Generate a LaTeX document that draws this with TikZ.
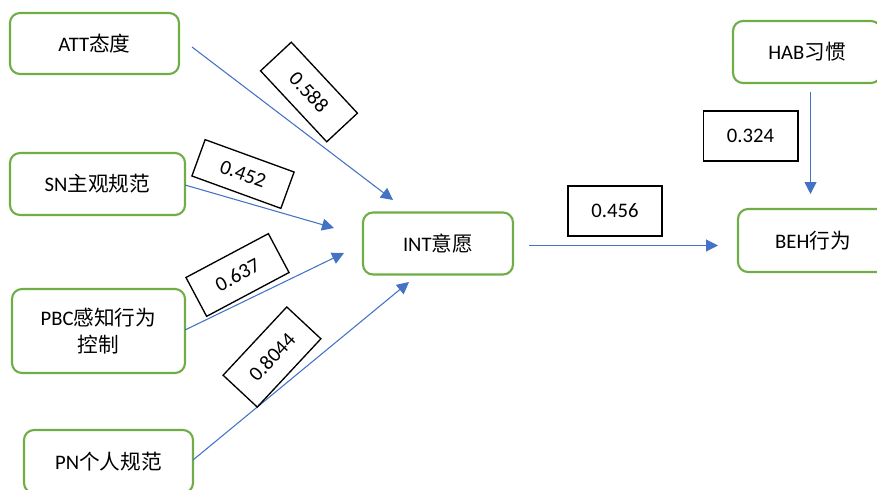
\documentclass[tikz,border=0pt]{standalone}
\usepackage{fontspec}
\setmainfont{Carlito}
\newfontfamily\cjk{Noto Sans CJK SC}
\usetikzlibrary{arrows.meta}
\definecolor{boxgreen}{HTML}{70AD47}
\definecolor{linkblue}{HTML}{4472C4}
\begin{document}
\begin{tikzpicture}[x=0.75pt,y=-0.75pt,
  factor/.style={draw=boxgreen, line width=1.6pt, rounded corners=7.5pt,
    align=center, inner sep=0pt, font=\fontsize{15.5}{20}\selectfont},
  coef/.style={draw=black, line width=1pt, inner sep=0pt,
    font=\fontsize{15.5}{19}\selectfont},
  link/.style={draw=linkblue, line width=0.8pt,
    -{Triangle[length=9pt,width=9pt]}}]
\useasboundingbox (0,0) rectangle (877,489);
\clip (0,0) rectangle (877,489);

% model constructs
\node[factor, minimum width=126.75pt, minimum height=45.75pt] (att) at (94.5,43.5) {ATT{\cjk 态度}};
\node[factor, minimum width=131.25pt, minimum height=46.5pt] (sn) at (97.5,184) {SN{\cjk 主观规范}};
\node[factor, minimum width=129.75pt, minimum height=63pt] (pbc) at (98.5,331) {PBC{\cjk 感知行为}\\{\cjk 控制}};
\node[factor, minimum width=126.75pt, minimum height=47.25pt] (pn) at (108.5,461.5) {PN{\cjk 个人规范}};
\node[factor, minimum width=112.5pt, minimum height=46.5pt] (int) at (438,243.5) {INT{\cjk 意愿}};
\node[factor, minimum width=111pt, minimum height=46.5pt] (hab) at (807,52) {HAB{\cjk 习惯}};
\node[factor, minimum width=112.5pt, minimum height=47.25pt] (beh) at (813,240.5) {BEH{\cjk 行为}};

% connector end points
\coordinate (attOut) at (192,47);
\coordinate (attIn) at (393,200);
\coordinate (snOut) at (185,185);
\coordinate (snIn) at (334,228);
\coordinate (pbcOut) at (185,330);
\coordinate (pbcIn) at (344,253);
\coordinate (pnOut) at (193,460);
\coordinate (pnIn) at (409,282);
\coordinate (intOut) at (529,245.5);
\coordinate (behIn) at (718,245.5);
\coordinate (habOut) at (810.5,92);
\coordinate (behTop) at (810.5,194);

% paths
\draw[link] (attOut) -- (attIn);
\draw[link] (snOut) -- (snIn);
\draw[link] (pbcOut) -- (pbcIn);
\draw[link] (pnOut) -- (pnIn);
\draw[link] (intOut) -- (behIn);
\draw[link] (habOut) -- (behTop);

% path coefficients
\node[coef, rotate=-47, minimum width=72.75pt, minimum height=31.5pt] (c588) at (309,92) {0.588};
\node[coef, rotate=-20, minimum width=71pt, minimum height=29pt] (c452) at (243,174) {0.452};
\node[coef, rotate=28, minimum width=70pt, minimum height=33pt] (c637) at (237.5,275) {0.637};
\node[coef, rotate=47, minimum width=70pt, minimum height=35pt] (c8044) at (272,357) {0.8044};
\node[coef, minimum width=71pt, minimum height=37.5pt] (c324) at (750.5,136) {0.324};
\node[coef, minimum width=70.5pt, minimum height=37.5pt] (c456) at (615,211) {0.456};
\end{tikzpicture}
\end{document}
